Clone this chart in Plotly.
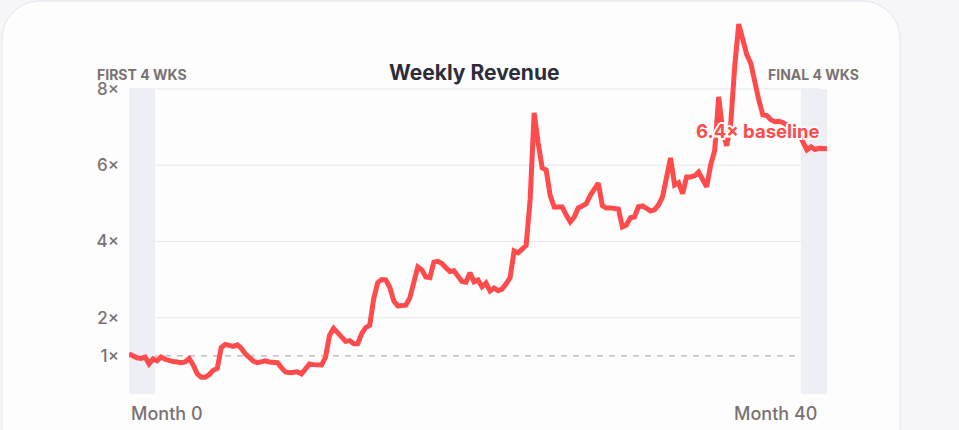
import plotly.graph_objects as go

# ---------------- data ----------------
weeks = list(range(175))
revenue_multiple = [
    1.05, 0.99, 0.95, 0.93, 0.97, 0.79, 0.92, 0.87, 0.97, 0.91,
    0.87, 0.85, 0.84, 0.82, 0.84, 0.93, 0.76, 0.53, 0.44, 0.44,
    0.51, 0.62, 0.67, 1.22, 1.30, 1.28, 1.25, 1.29, 1.20, 1.05,
    0.96, 0.86, 0.82, 0.84, 0.87, 0.84, 0.82, 0.82, 0.69, 0.58,
    0.56, 0.57, 0.58, 0.53, 0.68, 0.79, 0.77, 0.76, 0.76, 0.97,
    1.54, 1.72, 1.62, 1.51, 1.38, 1.40, 1.32, 1.32, 1.58, 1.74,
    1.80, 2.50, 2.92, 3.00, 2.99, 2.80, 2.44, 2.31, 2.32, 2.33,
    2.52, 2.91, 3.33, 3.25, 3.07, 3.05, 3.46, 3.48, 3.42, 3.31,
    3.21, 3.23, 3.09, 2.95, 2.93, 3.18, 2.94, 2.99, 2.81, 2.91,
    2.70, 2.78, 2.71, 2.75, 2.89, 3.05, 3.75, 3.70, 3.80, 3.90,
    5.10, 7.37, 6.58, 5.93, 5.87, 5.20, 4.90, 4.90, 4.90, 4.69,
    4.51, 4.64, 4.88, 4.93, 4.99, 5.21, 5.40, 5.53, 4.94, 4.88,
    4.88, 4.88, 4.85, 4.38, 4.43, 4.62, 4.64, 4.91, 4.93, 4.87,
    4.80, 4.83, 4.96, 5.17, 5.64, 6.19, 5.48, 5.54, 5.25, 5.69,
    5.69, 5.72, 5.82, 5.63, 5.43, 6.01, 6.38, 7.79, 6.89, 6.51,
    7.08, 8.60, 9.70, 9.30, 8.90, 8.67, 8.13, 7.71, 7.32, 7.30,
    7.19, 7.14, 7.15, 7.12, 7.05, 6.99, 6.92, 6.82, 6.58, 6.40,
    6.48, 6.41, 6.44, 6.45, 6.43,
]
y_tick_values = [1, 2, 4, 6, 8]
y_tick_labels = ["1×", "2×", "4×", "6×", "8×"]
x_tick_weeks = [0, 172]
x_tick_labels = ["Month 0", "Month 40"]
first_band = [0, 6.5]
final_band = [167.5, 174]
band_labels = ["FIRST 4 WKS", "FINAL 4 WKS"]
baseline = 1
end_label = "6.4× baseline"
end_label_pos = [172.8, 6.9]
title = "Weekly Revenue"

# ---------------- layout geometry ----------------
W, H = 959, 430
L, R, T, B = 129, 132, 20, 36
PW, PH = W - L - R, H - T - B
Y_MAX = PH / 38.14

def pp(px, py):
    return (px - L) / PW, (H - B - py) / PH

def card_path(x0, y0, x1, y1, r):
    k = 0.5523 * r
    def P(x, y):
        a, b = pp(x, y)
        return f"{a:.5f},{b:.5f}"
    d = f"M{P(x0 + r, y0)} L{P(x1 - r, y0)} "
    d += f"C{P(x1 - r + k, y0)} {P(x1, y0 + r - k)} {P(x1, y0 + r)} "
    d += f"L{P(x1, y1 - r)} "
    d += f"C{P(x1, y1 - r + k)} {P(x1 - r + k, y1)} {P(x1 - r, y1)} "
    d += f"L{P(x0 + r, y1)} "
    d += f"C{P(x0 + r - k, y1)} {P(x0, y1 - r + k)} {P(x0, y1 - r)} "
    d += f"L{P(x0, y0 + r)} "
    d += f"C{P(x0, y0 + r - k)} {P(x0 + r - k, y0)} {P(x0 + r, y0)} Z"
    return d

FONT = "Inter, 'Noto Sans', sans-serif"
LABEL_GREY = "#7a7272"
RED = "#ff4b4b"

fig = go.Figure()
fig.add_trace(go.Scatter(
    x=weeks, y=revenue_multiple, mode="lines",
    line=dict(color=RED, width=5),
    hoverinfo="skip", showlegend=False,
))

shapes = []
# card
shapes.append(dict(type="path", xref="paper", yref="paper",
                   path=card_path(2, 1, 900, 480, 38),
                   fillcolor="#fdfdfd", line=dict(color="#e3e3ee", width=1),
                   layer="below"))
# bands
for band in (first_band, final_band):
    shapes.append(dict(type="rect", xref="x", yref="y",
                       x0=band[0], x1=band[1], y0=0, y1=max(y_tick_values),
                       fillcolor="#eeeff4", line=dict(width=0), layer="below"))
# gridlines
grid_end = (819 - L) / PW
for v in y_tick_values:
    if v == baseline:
        continue
    shapes.append(dict(type="line", xref="paper", yref="y",
                       x0=0, x1=grid_end, y0=v, y1=v,
                       line=dict(color="#e6e6ee", width=1), layer="below"))
# baseline
shapes.append(dict(type="line", xref="paper", yref="y",
                   x0=0, x1=grid_end, y0=baseline, y1=baseline,
                   line=dict(color="#b9b3b3", width=1.3, dash="6px,6px"),
                   layer="below"))

annotations = []
annotations.append(dict(text=f"<b>{title}</b>", xref="paper", yref="paper",
                        x=pp(474, 0)[0], y=pp(0, 72)[1], xanchor="center", yanchor="middle",
                        showarrow=False,
                        font=dict(family=FONT, size=21, color="#2d2d3a")))
for band, lab in zip((first_band, final_band), band_labels):
    annotations.append(dict(text=f"<b>{lab}</b>", xref="x", yref="paper",
                            x=(band[0] + band[1]) / 2, y=pp(0, 74.5)[1],
                            xanchor="center", yanchor="middle", showarrow=False,
                            font=dict(family=FONT, size=14, color=LABEL_GREY)))
for xv, lab, anc in zip(x_tick_weeks, x_tick_labels, ("left", "right")):
    annotations.append(dict(text=lab, xref="x", yref="paper",
                            x=xv, y=pp(0, 413)[1], xanchor=anc, yanchor="middle",
                            showarrow=False,
                            font=dict(family=FONT, size=18, weight=500, color=LABEL_GREY)))
annotations.append(dict(text=f"<b>{end_label}</b>", xref="x", yref="y",
                        x=end_label_pos[0], y=end_label_pos[1],
                        xanchor="right", yanchor="middle", showarrow=False,
                        font=dict(family=FONT, size=18.5, color=RED,
                                  shadow="2px 0 0 #fff, -2px 0 0 #fff, 0 2px 0 #fff, 0 -2px 0 #fff, 1.5px 1.5px 0 #fff, -1.5px -1.5px 0 #fff, 1.5px -1.5px 0 #fff, -1.5px 1.5px 0 #fff")))

fig.update_layout(
    width=W, height=H,
    margin=dict(l=L, r=R, t=T, b=B, pad=0),
    paper_bgcolor="#f6f6f8",
    plot_bgcolor="rgba(0,0,0,0)",
    shapes=shapes,
    annotations=annotations,
    showlegend=False,
    xaxis=dict(range=[0, 174], visible=False, fixedrange=True),
    yaxis=dict(range=[0, Y_MAX], tickvals=y_tick_values, ticktext=y_tick_labels,
               showgrid=False, zeroline=False, showline=False, ticks="",
               ticklabelstandoff=9,
               tickfont=dict(family=FONT, size=17, weight=500, color=LABEL_GREY),
               fixedrange=True),
)

fig.write_html("out.html", config={"displayModeBar": False})
